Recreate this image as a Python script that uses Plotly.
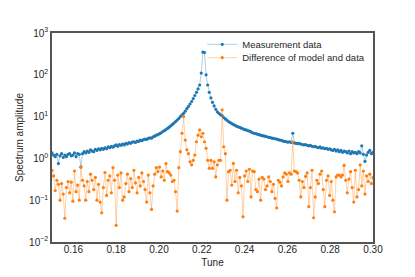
import numpy as np
import plotly.graph_objects as go

tune_start, tune_step, n_points = 0.15, 0.00075, 201

measurement = [
    1.35, 1.2, 1.1, 1.25, 0.75, 1.15, 1.3, 1.05, 1.2, 1.1,
    1.25, 1.3, 1.15, 1.2, 1.35, 1.1, 1.3, 1.25, 0.62, 1.3,
    1.45, 1.35, 1.5, 1.4, 1.6, 1.5, 1.45, 1.65, 1.55, 1.7,
    1.6, 1.75, 1.65, 1.8, 1.7, 1.9, 1.8, 1.95, 1.85, 2.0,
    2.1, 1.95, 2.15, 2.05, 2.2, 2.1, 2.3, 2.2, 2.4, 2.3,
    2.45, 2.5, 2.4, 2.6, 2.55, 2.75, 2.65, 2.8, 2.9, 2.85,
    3.0, 3.1, 3.05, 3.3, 3.4, 3.6, 3.7, 3.9, 4.1, 4.4,
    4.6, 4.9, 5.2, 5.6, 6.0, 6.5, 7.0, 7.6, 8.3, 9.0,
    10.0, 11.0, 12.0, 13.5, 15.5, 17.5, 20.0, 23.0, 27.0, 32.0,
    38.0, 46.0, 57.0, 110.0, 350.0, 340.0, 100.0, 57.0, 38.0, 28.0,
    22.0, 18.0, 15.0, 13.0, 12.0, 11.0, 10.5, 9.5, 8.8, 8.2,
    7.6, 7.2, 6.8, 6.5, 6.2, 5.9, 5.7, 5.5, 5.3, 5.1,
    4.9, 4.8, 4.6, 4.5, 4.3, 4.1, 4.0, 3.9, 3.8, 3.7,
    3.6, 3.5, 3.45, 3.35, 3.3, 3.2, 3.15, 3.05, 3.0, 2.95,
    2.9, 2.8, 2.75, 2.7, 2.6, 2.55, 2.5, 2.45, 2.5, 2.4,
    4.0, 2.35, 2.3, 2.25, 2.3, 2.2, 2.15, 2.1, 2.15, 2.05,
    2.0, 2.05, 1.95, 1.9, 1.95, 1.85, 1.8, 1.9, 1.75, 1.8,
    1.7, 1.75, 1.65, 1.7, 1.6, 1.55, 1.65, 1.5, 1.6, 1.45,
    1.55, 1.4, 1.5, 1.45, 1.35, 1.5, 1.3, 1.45, 1.35, 1.4,
    1.3, 1.45, 1.35, 2.0, 1.25, 0.85, 1.2, 1.4, 1.55, 1.3,
    1.4,
]

difference = [
    0.52, 0.38, 0.17, 0.3, 0.24, 0.1, 0.25, 0.14, 0.037, 0.2,
    0.28, 0.15, 0.27, 0.095, 0.5, 0.16, 0.23, 0.1, 0.63, 0.3,
    0.22, 0.1, 0.28, 0.16, 0.42, 0.3, 0.18, 0.35, 0.1, 0.24,
    0.09, 0.05, 0.2, 0.46, 0.13, 0.3, 0.38, 0.15, 0.6, 0.3,
    0.025, 0.4, 0.2, 0.45, 0.1, 0.12, 0.25, 0.42, 0.16, 0.33,
    0.2, 0.52, 0.26, 0.15, 0.35, 0.22, 0.45, 0.28, 0.18, 0.09,
    0.4, 0.15, 0.06, 0.22, 0.42, 0.6, 0.48, 0.62, 0.36, 0.5,
    0.3, 0.75, 0.48, 0.45, 0.4, 0.28, 0.3, 0.16, 0.055, 0.6,
    1.45, 4.0, 10.0, 2.75, 1.6, 1.3, 0.83, 0.7, 0.9, 1.2,
    2.5, 3.6, 4.8, 3.3, 4.0, 2.5, 1.75, 0.9, 0.58, 0.9,
    0.58, 0.83, 0.36, 0.7, 0.9, 0.9, 14.5, 1.9, 1.3, 0.1,
    0.48, 0.52, 0.23, 0.76, 0.28, 0.52, 0.15, 0.35, 0.22, 0.04,
    0.38, 0.5, 0.28, 0.55, 0.12, 0.5, 0.48, 0.18, 0.16, 0.32,
    0.1, 0.35, 0.32, 0.18, 0.22, 0.36, 0.28, 0.16, 0.24, 0.11,
    0.065, 0.3, 0.27, 0.22, 0.36, 0.45, 0.42, 0.28, 0.45, 0.42,
    2.5, 0.5, 0.48, 0.45, 0.3, 0.12, 0.28, 0.2, 0.37, 0.45,
    0.07, 0.2, 0.52, 0.038, 0.12, 0.3, 0.25, 0.42, 0.5, 0.18,
    0.07, 0.3, 0.38, 0.13, 0.28, 0.1, 0.053, 0.36, 0.4, 0.4,
    0.36, 0.4, 0.68, 0.3, 0.15, 0.32, 0.48, 0.2, 0.09, 0.52,
    0.12, 0.18, 0.7, 0.22, 0.5, 0.14, 0.38, 0.28, 0.42, 0.25,
    0.35,
]

x_ticks = [0.16, 0.18, 0.20, 0.22, 0.24, 0.26, 0.28, 0.30]
x_tick_labels = ["0.16", "0.18", "0.20", "0.22", "0.24", "0.26", "0.28", "0.30"]
y_ticks = [1e-2, 1e-1, 1e0, 1e1, 1e2, 1e3]
y_tick_labels = ["10<sup>\u22122</sup>", "10<sup>\u22121</sup>", "10<sup>0</sup>",
                 "10<sup>1</sup>", "10<sup>2</sup>", "10<sup>3</sup>"]

tune = tune_start + tune_step * np.arange(n_points)

font = "Liberation Sans, Arial, sans-serif"

fig = go.Figure()
fig.add_trace(go.Scatter(
    x=tune, y=measurement, mode="lines+markers", name="Measurement data",
    line=dict(color="rgba(31,119,180,0.45)", width=0.8),
    marker=dict(color="#1f77b4", size=3.2),
    legend="legend",
))
fig.add_trace(go.Scatter(
    x=tune, y=difference, mode="lines+markers", name="Difference of model and data",
    line=dict(color="rgba(255,127,14,0.45)", width=0.8),
    marker=dict(color="#ff7f0e", size=3.2),
    legend="legend2",
))

legend_common = dict(xanchor="left", yanchor="middle", bgcolor="rgba(0,0,0,0)",
                     font=dict(size=9.5, color="#262626"), itemwidth=30,
                     borderwidth=0)

fig.update_layout(
    width=415, height=277,
    margin=dict(l=52, r=42, t=33, b=35, autoexpand=False),
    paper_bgcolor="white", plot_bgcolor="white",
    font=dict(family=font, size=10, color="#262626"),
    showlegend=True,
    legend=dict(x=0.468, y=0.946, **legend_common),
    legend2=dict(x=0.468, y=0.882, **legend_common),
    xaxis=dict(
        range=[0.15, 0.30], tickvals=x_ticks, ticktext=x_tick_labels,
        showgrid=False, zeroline=False, showline=True, mirror=True,
        linecolor="#555555", linewidth=1.6, ticks="", ticklabelstandoff=-3,
        automargin=False,
        title=dict(text="Tune", font=dict(size=10), standoff=5),
    ),
    yaxis=dict(
        type="log", range=[-2, 3], tickvals=y_ticks, ticktext=y_tick_labels,
        showgrid=False, zeroline=False, showline=True, mirror=True,
        linecolor="#555555", linewidth=1.6, ticks="", automargin=False,
        title=dict(text="Spectrum amplitude", font=dict(size=10), standoff=4),
    ),
)

fig.write_html("out.html", config={"displayModeBar": False},
               post_script="document.body.style.margin='0px';")
